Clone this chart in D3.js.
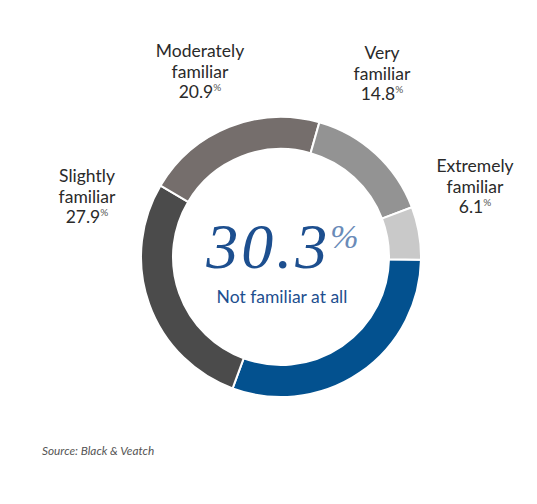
<!DOCTYPE html>
<html>
<head>
<meta charset="utf-8">
<script src="https://cdn.jsdelivr.net/npm/d3@7"></script>
<style>
  body { margin: 0; background: #fff; }
  svg text { font-family: Lato, "Open Sans", sans-serif; }
</style>
</head>
<body>
<svg id="chart" width="537" height="504"></svg>
<script>
// Familiarity share, clockwise starting from 3 o'clock
const categories = ["Not familiar at all", "Slightly familiar", "Moderately familiar", "Very familiar", "Extremely familiar"]
const values = [30.3, 27.9, 20.9, 14.8, 6.1]
const colors = ["#03518f", "#4b4b4b", "#756e6c", "#939393", "#c9c9c9"]
// label lines and anchor for each outer label (the blue one sits in the middle)
const labelLines = [null, ["Slightly", "familiar"], ["Moderately", "familiar"], ["Very", "familiar"], ["Extremely", "familiar"]]
const labelPos = [null, [87, 182], [200, 57], [382, 59], [475, 172]]

const svg = d3.select("#chart")
const cx = 281, cy = 257
const outerR = 140, innerR = 108

const pie = d3.pie()
    .sort(null)
    .value(d => d)
    .startAngle(Math.PI / 2 + 0.02)
    .endAngle(Math.PI / 2 + 0.02 + 2 * Math.PI)

const arc = d3.arc()
    .innerRadius(innerR)
    .outerRadius(outerR)

const g = svg.append("g").attr("transform", `translate(${cx},${cy})`)

g.selectAll("path")
    .data(pie(values))
    .enter()
    .append("path")
    .attr("d", arc)
    .attr("fill", (d, i) => colors[i])
    .attr("stroke", "#fff")
    .attr("stroke-width", 2)

// outer labels
values.forEach(function (v, i) {
    if (!labelLines[i]) return
    const t = svg.append("text")
        .attr("x", labelPos[i][0])
        .attr("y", labelPos[i][1])
        .attr("text-anchor", "middle")
        .attr("font-size", 17.5)
        .attr("fill", "#2a2a2a")
    labelLines[i].forEach(function (line, j) {
        t.append("tspan").attr("x", labelPos[i][0]).attr("dy", j === 0 ? 0 : 20.5).text(line)
    })
    const last = t.append("tspan").attr("x", labelPos[i][0]).attr("dy", 20.5)
    last.append("tspan").text(v.toFixed(1))
    last.append("tspan").attr("font-size", 10).attr("dy", -7).attr("fill", "#555").text("%")
})

// centre figure
const big = svg.append("text")
    .attr("x", cx + 3)
    .attr("y", 268)
    .attr("text-anchor", "middle")
    .attr("fill", "#1d4f8f")
    .style("font-family", "'Liberation Serif', 'DejaVu Serif', serif")
    .style("font-style", "italic")
    .attr("font-size", 64)
    .attr("letter-spacing", 3)
big.append("tspan").text(values[0].toFixed(1))
big.append("tspan")
    .attr("font-size", 34)
    .attr("dy", -20)
    .attr("fill", "#6a8bb8")
    .style("font-weight", 300)
    .text("%")

svg.append("text")
    .attr("x", cx + 1)
    .attr("y", 303)
    .attr("text-anchor", "middle")
    .attr("font-size", 17.5)
    .attr("fill", "#1d4f8f")
    .text(categories[0])

svg.append("text")
    .attr("x", 42)
    .attr("y", 455)
    .attr("font-size", 11.8)
    .attr("font-style", "italic")
    .attr("fill", "#555")
    .text("Source: Black & Veatch")
</script>
</body>
</html>
